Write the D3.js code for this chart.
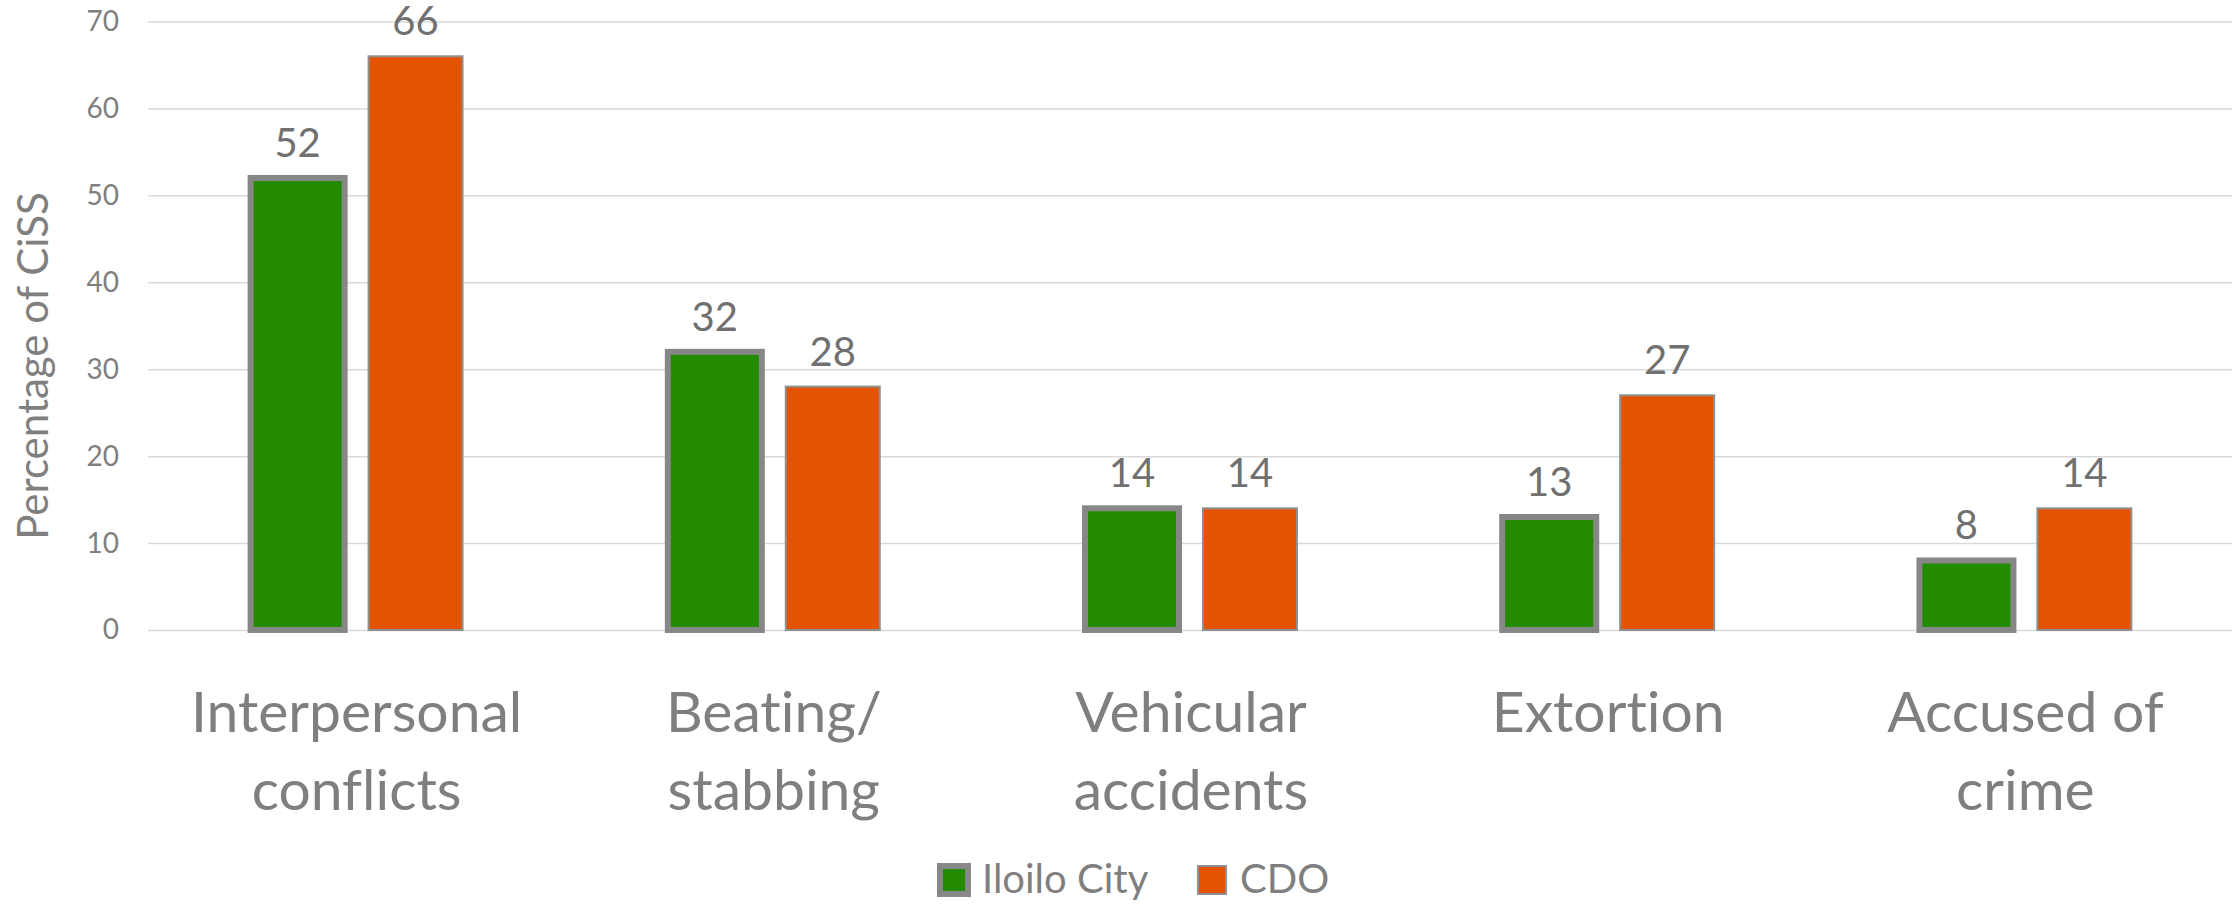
<!DOCTYPE html>
<html>
<head>
<meta charset="utf-8">
<script src="https://cdn.jsdelivr.net/npm/d3@7"></script>
<style>
    html, body { margin: 0; padding: 0; background: #ffffff; }
    svg { display: block; font-family: Lato, "Open Sans", sans-serif; font-variant-ligatures: none; }
</style>
</head>
<body>
<div id="chart"></div>
<script>
const categories = [["Interpersonal", "conflicts"], ["Beating/", "stabbing"], ["Vehicular", "accidents"], ["Extortion"], ["Accused of", "crime"]];
const seriesNames = ["Iloilo City", "CDO"];
const iloiloValues = [52, 32, 14, 13, 8];
const cdoValues = [66, 28, 14, 27, 14];
const yTicks = [0, 10, 20, 30, 40, 50, 60, 70];

const width = 2234, height = 904;
const textColor = "#7f7f7f";
const fills = {"Iloilo City": "#228b00", "CDO": "#e35300"};
const strokes = {"Iloilo City": {color: "#878787", width: 6}, "CDO": {color: "#8f8f8f", width: 2}};

const svg = d3.select("#chart").append("svg")
    .attr("width", width)
    .attr("height", height);

const catKeys = categories.map(c => c.join(" "));

let x0 = d3.scaleBand()
    .domain(catKeys)
    .range([148, 2234])
    .paddingInner(0.492)
    .paddingOuter(0.246);

let x1 = d3.scaleBand()
    .domain(seriesNames)
    .range([0, x0.bandwidth()])
    .paddingInner(0.203);

let y = d3.scaleLinear().domain([0, 70]).range([630, 21.5]);

// gridlines + tick labels
let yAxis = svg.append("g")
    .attr("transform", "translate(148,0)")
    .call(d3.axisLeft(y).tickValues(yTicks).tickSize(-(2232 - 148)).tickPadding(29));
yAxis.select(".domain").remove();
yAxis.selectAll(".tick line").attr("stroke", "#d9d9d9").attr("stroke-width", 1.5);
yAxis.selectAll(".tick text")
    .attr("fill", textColor)
    .style("font-family", "Lato, sans-serif")
    .style("font-size", "28px");

// y axis title
svg.append("text")
    .attr("transform", "translate(48,366) rotate(-90)")
    .attr("text-anchor", "middle")
    .attr("fill", textColor)
    .style("font-size", "42px")
    .text("Percentage of CiSS");

let rows = catKeys.map((k, i) => ({key: k, values: [
    {name: "Iloilo City", value: iloiloValues[i]},
    {name: "CDO", value: cdoValues[i]}
]}));

let groups = svg.append("g").selectAll("g")
    .data(rows)
    .join("g")
    .attr("transform", d => "translate(" + x0(d.key) + ",0)");

groups.selectAll("rect")
    .data(d => d.values)
    .join("rect")
    .attr("x", d => x1(d.name))
    .attr("y", d => y(d.value))
    .attr("width", x1.bandwidth())
    .attr("height", d => y(0) - y(d.value))
    .attr("fill", d => fills[d.name])
    .attr("stroke", d => strokes[d.name].color)
    .attr("stroke-width", d => strokes[d.name].width);

groups.selectAll("text.val")
    .data(d => d.values)
    .join("text")
    .attr("class", "val")
    .attr("x", d => x1(d.name) + x1.bandwidth() / 2)
    .attr("y", d => y(d.value) - 21)
    .attr("text-anchor", "middle")
    .attr("fill", "#707070")
    .style("font-size", "40px")
    .text(d => d.value);

// category labels
let catLabels = svg.append("g").selectAll("text")
    .data(categories)
    .join("text")
    .attr("text-anchor", "middle")
    .attr("fill", textColor)
    .style("font-size", "57px")
    .attr("transform", (d, i) => "translate(" + (x0(catKeys[i]) + x0.bandwidth() / 2) + ",732)");

catLabels.selectAll("tspan")
    .data(d => d)
    .join("tspan")
    .attr("x", 0)
    .attr("y", (d, i) => i * 78)
    .text(d => d);

// legend
const legendItems = [
    {name: "Iloilo City", x: 940},
    {name: "CDO", x: 1198}
];
let legend = svg.append("g").selectAll("g")
    .data(legendItems)
    .join("g")
    .attr("transform", d => "translate(" + d.x + ",866)");

legend.append("rect")
    .attr("width", 28)
    .attr("height", 28)
    .attr("fill", d => fills[d.name])
    .attr("stroke", d => strokes[d.name].color)
    .attr("stroke-width", d => strokes[d.name].width);

legend.append("text")
    .attr("x", 42)
    .attr("y", 27)
    .attr("fill", textColor)
    .style("font-size", "40px")
    .text(d => d.name);
</script>
</body>
</html>
